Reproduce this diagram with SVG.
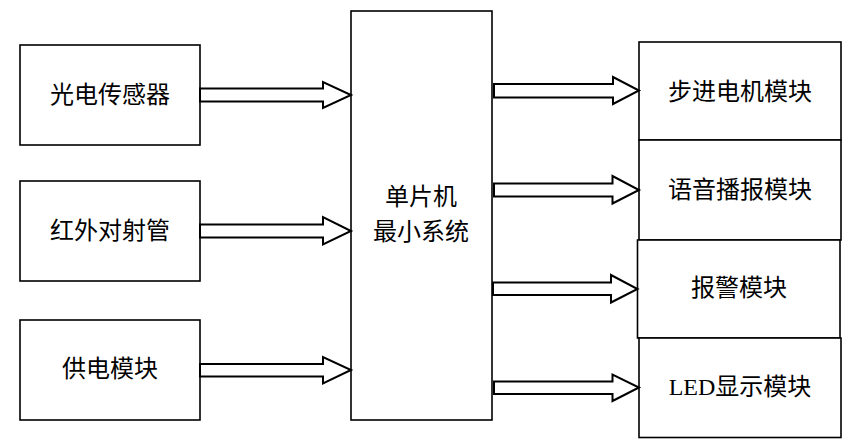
<svg xmlns="http://www.w3.org/2000/svg" width="857" height="441" viewBox="0 0 857 441">
<style>
.box{fill:#fff;stroke:#000;stroke-width:1.6}
.arr{fill:#fff;stroke:#000;stroke-width:2;stroke-linejoin:miter}
.t{font-family:"Liberation Serif","Noto Sans CJK SC",serif;font-size:24px;fill:#000;text-anchor:middle;dominant-baseline:central}
</style>
<rect width="857" height="441" fill="#fff"/>
<g id="n-guangdian"><rect class="box" x="20" y="45" width="180" height="100"/><text class="t" x="110" y="95">光电传感器</text></g>
<g id="n-hongwai"><rect class="box" x="20" y="181" width="180" height="100"/><text class="t" x="110" y="231">红外对射管</text></g>
<g id="n-gongdian"><rect class="box" x="20" y="320" width="180" height="100"/><text class="t" x="110" y="369">供电模块</text></g>
<g id="n-mcu"><rect class="box" x="351" y="11" width="141" height="409"/><text class="t" x="421" y="197">单片机</text><text class="t" x="421" y="232">最小系统</text></g>
<g id="n-bujin"><rect class="box" x="639" y="42" width="202" height="98"/><text class="t" x="740" y="92">步进电机模块</text></g>
<g id="n-yuyin"><rect class="box" x="639" y="140" width="202" height="100"/><text class="t" x="740" y="190">语音播报模块</text></g>
<g id="n-baojing"><rect class="box" x="637.5" y="240" width="202.5" height="98"/><text class="t" x="739" y="288">报警模块</text></g>
<g id="n-led"><rect class="box" x="639" y="338" width="202" height="99.5"/><text class="t" x="740" y="387">LED显示模块</text></g>
<g id="connectors">
<polygon class="arr" points="200,88.5 323,88.5 323,82 351,95 323,108 323,101.5 200,101.5"/>
<polygon class="arr" points="200,224.5 323,224.5 323,217 351,231 323,244.5 323,237.5 200,237.5"/>
<polygon class="arr" points="200,364 323,364 323,357 351,370 323,383.5 323,376.5 200,376.5"/>
<polygon class="arr" points="494,84 613,84 613,77 639,90.5 613,104 613,97.5 494,97.5"/>
<polygon class="arr" points="494,183.5 612.5,183.5 612.5,176 639,190 612.5,203.5 612.5,196.5 494,196.5"/>
<polygon class="arr" points="493,282.5 611,282.5 611,275 637.5,289 611,302.5 611,295 493,295"/>
<polygon class="arr" points="494,381.5 612.5,381.5 612.5,374.5 639,387.5 612.5,401 612.5,394 494,394"/>
</g>
</svg>
